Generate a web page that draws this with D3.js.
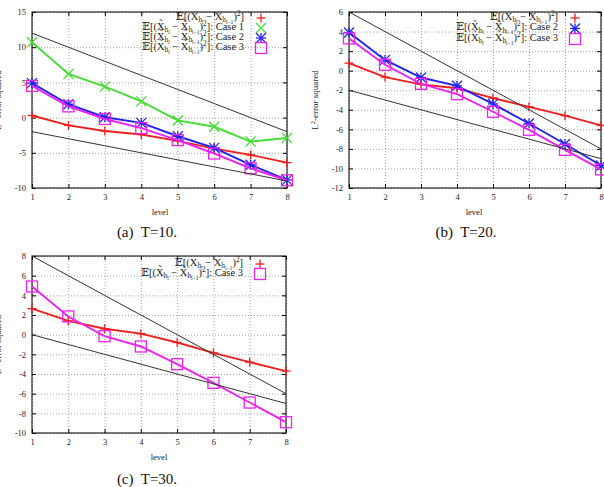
<!DOCTYPE html>
<html>
<head>
<meta charset="utf-8">
<script src="https://cdn.jsdelivr.net/npm/d3@7"></script>
<style>
  body { margin: 0; background: #fff; }
  svg, svg text { font-family: "Liberation Serif", "Times New Roman", "DejaVu Serif", serif; }
  text { white-space: pre; }
</style>
</head>
<body>
<svg id="fig" width="604" height="487"></svg>
<script>
const levels = [1, 2, 3, 4, 5, 6, 7, 8];

// (a) T=10
const t10Exact = [0.3, -1.1, -1.9, -2.4, -3.3, -4.4, -5.3, -6.4];
const t10Case1 = [10.7, 6.2, 4.4, 2.3, -0.4, -1.3, -3.4, -2.9];
const t10Case2 = [4.9, 1.9, 0.05, -0.75, -2.65, -4.3, -6.7, -8.85];
const t10Case3 = [4.5, 1.6, -0.2, -1.5, -3.2, -5.1, -7.2, -8.9];
const t10RefSteep = [12, 10, 8, 6, 4, 2, 0, -2];
const t10RefFlat = [-2, -3, -4, -5, -6, -7, -8, -9];
const t10YTicks = [-10, -5, 0, 5, 10, 15];

// (b) T=20
const t20Exact = [0.77, -0.66, -1.4, -1.8, -2.8, -3.7, -4.6, -5.6];
const t20Case2 = [3.9, 1.1, -0.7, -1.55, -3.4, -5.4, -7.5, -9.7];
const t20Case3 = [3.3, 0.6, -1.35, -2.4, -4.2, -6.05, -8.1, -10.1];
const t20RefSteep = [6, 4, 2, 0, -2, -4, -6, -8];
const t20RefFlat = [-2, -3, -4, -5, -6, -7, -8, -9];
const t20YTicks = [-12, -10, -8, -6, -4, -2, 0, 2, 4, 6];

// (c) T=30
const t30Exact = [2.65, 1.4, 0.6, 0.1, -0.8, -1.85, -2.8, -3.7];
const t30Case3 = [4.9, 1.85, -0.15, -1.2, -3.0, -4.9, -6.9, -8.9];
const t30RefSteep = [8, 6, 4, 2, 0, -2, -4, -6];
const t30RefFlat = [0, -1, -2, -3, -4, -5, -6, -7];
const t30YTicks = [-10, -8, -6, -4, -2, 0, 2, 4, 6, 8];

// legend labels, [text, level] : 0 normal, 1 sub, 2 subsub, -1 sup
const exactLabel = [['𝔼[(X', 0], ['h', 1], ['l', 2], [' − X', 0], ['h', 1], ['l−1', 2], [')', 0], ['2', -1], [']', 0]];
const caseLabel = n => [['𝔼[(X̃', 0], ['h', 1], ['l', 2], [' − X̃', 0], ['h', 1], ['l−1', 2], [')', 0], ['2', -1], [']: Case ' + n, 0]];

const colors = {exact: '#ee1f1f', case1: '#44dd33', case2: '#2222ee', case3: '#ee22ee'};
const serif = '"Liberation Serif", "Times New Roman", "DejaVu Serif", serif';

class LevelPlot {
    constructor(_config, _series, _refs) {
        this.config = {
            parentElement: _config.parentElement,
            left: _config.left,
            top: _config.top,
            width: _config.width || 254,
            height: _config.height || 176,
            yTicks: _config.yTicks,
            caption: _config.caption,
            captionX: _config.captionX,
            captionY: _config.captionY || 225,
            levelX: _config.levelX || 127,
            legendRows: _config.legendRows
        }
        this.series = _series;
        this.refs = _refs;
        this.initVis();
    }

    initVis() {
        let vis = this;
        const w = vis.config.width, h = vis.config.height;

        vis.svg = d3.select(vis.config.parentElement);
        vis.chart = vis.svg.append('g')
            .attr('transform', `translate(${vis.config.left},${vis.config.top})`);

        vis.xScale = d3.scaleLinear().domain([1, 8]).range([0, w]);
        vis.yScale = d3.scaleLinear().domain(d3.extent(vis.config.yTicks)).range([h, 0]);

        // dotted grid
        vis.chart.append('g')
            .attr('class', 'grid')
            .attr('transform', `translate(0,${h})`)
            .call(d3.axisBottom(vis.xScale).tickValues(levels).tickSize(-h).tickFormat(''));
        vis.chart.append('g')
            .attr('class', 'grid')
            .call(d3.axisLeft(vis.yScale).tickValues(vis.config.yTicks).tickSize(-w).tickFormat(''));
        vis.chart.selectAll('.grid .domain').remove();
        vis.chart.selectAll('.grid line')
            .attr('stroke', '#8a8a8a')
            .attr('stroke-width', 0.8)
            .attr('stroke-dasharray', '1,2');

        // inward ticks on all four sides
        const fmt = d => String(d);
        vis.chart.append('g')
            .attr('transform', `translate(0,${h})`)
            .call(d3.axisBottom(vis.xScale).tickValues(levels).tickSizeInner(-4).tickSizeOuter(0).tickPadding(6).tickFormat(fmt));
        vis.chart.append('g')
            .call(d3.axisLeft(vis.yScale).tickValues(vis.config.yTicks).tickSizeInner(-4).tickSizeOuter(0).tickPadding(6).tickFormat(fmt));
        vis.chart.append('g')
            .call(d3.axisTop(vis.xScale).tickValues(levels).tickSizeInner(-4).tickSizeOuter(0).tickFormat(''));
        vis.chart.append('g')
            .attr('transform', `translate(${w},0)`)
            .call(d3.axisRight(vis.yScale).tickValues(vis.config.yTicks).tickSizeInner(-4).tickSizeOuter(0).tickFormat(''));
        vis.chart.selectAll('.domain').remove();
        vis.chart.selectAll('g').attr('font-family', serif);
        vis.chart.selectAll('g.tick text')
            .attr('font-family', serif)
            .attr('font-size', 8.5)
            .attr('fill', '#222');

        vis.chart.append('rect')
            .attr('width', w)
            .attr('height', h)
            .attr('fill', 'none')
            .attr('stroke', '#111')
            .attr('stroke-width', 1.1);

        // labels
        vis.chart.append('text')
            .attr('x', vis.config.levelX)
            .attr('y', h + 27)
            .attr('text-anchor', 'middle')
            .attr('font-family', serif)
            .attr('font-size', 8.5)
            .attr('fill', '#222')
            .text('level');

        const yl = vis.chart.append('text')
            .attr('transform', `translate(-31,${h / 2}) rotate(-90)`)
            .attr('text-anchor', 'middle')
            .attr('font-family', serif)
            .attr('font-size', 9)
            .attr('fill', '#222');
        yl.append('tspan').text('L');
        yl.append('tspan').attr('dy', -3.5).attr('font-size', 6.5).text('2');
        yl.append('tspan').attr('dy', 3.5).text('-error squared');

        vis.chart.append('text')
            .attr('x', vis.config.captionX)
            .attr('y', vis.config.captionY)
            .attr('text-anchor', 'middle')
            .attr('font-family', serif)
            .attr('font-size', 15)
            .attr('fill', '#111')
            .text(vis.config.caption);

        vis.renderVis();
    }

    marker(g, type, x, y, color) {
        const s = type === 'plus' ? 4.5 : 5;
        const add = (x1, y1, x2, y2) => g.append('line')
            .attr('x1', x + x1).attr('y1', y + y1).attr('x2', x + x2).attr('y2', y + y2)
            .attr('stroke', color).attr('stroke-width', 1.3);
        if (type === 'plus' || type === 'star') {
            add(-s, 0, s, 0);
            add(0, -s, 0, s);
        }
        if (type === 'cross' || type === 'star') {
            add(-s, -s, s, s);
            add(-s, s, s, -s);
        }
        if (type === 'square') {
            g.append('rect')
                .attr('x', x - 5.5).attr('y', y - 5.5)
                .attr('width', 11).attr('height', 11)
                .attr('fill', 'none').attr('stroke', color).attr('stroke-width', 1.3);
        }
    }

    renderVis() {
        let vis = this;
        const line = d3.line()
            .x((d, i) => vis.xScale(levels[i]))
            .y(d => vis.yScale(d));

        vis.series.forEach(s => {
            const g = vis.chart.append('g');
            g.append('path')
                .attr('d', line(s.values))
                .attr('fill', 'none')
                .attr('stroke', s.color)
                .attr('stroke-width', 1.9);
            s.values.forEach((v, i) => vis.marker(g, s.marker, vis.xScale(levels[i]), vis.yScale(v), s.color));
        });

        vis.refs.forEach(r => {
            vis.chart.append('path')
                .attr('d', line(r))
                .attr('fill', 'none')
                .attr('stroke', '#333')
                .attr('stroke-width', 1);
        });

        // legend
        const lx = vis.config.width - 43;
        const mx = vis.config.width - 26;
        const sizes = {0: 10.5, 1: 7.2, 2: 5.6, '-1': 7.2};
        const offs = {0: 0, 1: 2.6, 2: 4.2, '-1': -4};
        vis.series.forEach((s, k) => {
            const my = vis.config.legendRows[k];
            const t = vis.chart.append('text')
                .attr('x', lx)
                .attr('y', my + 1.5)
                .attr('text-anchor', 'end')
                .attr('font-family', serif)
                .attr('fill', '#222');
            let cur = 0;
            s.label.forEach(([str, lvl]) => {
                t.append('tspan')
                    .attr('dy', offs[lvl] - cur)
                    .attr('font-size', sizes[lvl])
                    .text(str);
                cur = offs[lvl];
            });
            vis.marker(vis.chart, s.marker, mx, my, s.color);
        });
    }
}

new LevelPlot({
    parentElement: '#fig', left: 32, top: 12, width: 255, height: 176,
    yTicks: t10YTicks, caption: '(a)  T=10.', captionX: 115, levelX: 128,
    legendRows: [6, 16, 26, 36]
}, [
    {values: t10Exact, color: colors.exact, marker: 'plus', label: exactLabel},
    {values: t10Case1, color: colors.case1, marker: 'cross', label: caseLabel(1)},
    {values: t10Case2, color: colors.case2, marker: 'star', label: caseLabel(2)},
    {values: t10Case3, color: colors.case3, marker: 'square', label: caseLabel(3)}
], [t10RefSteep, t10RefFlat]);

new LevelPlot({
    parentElement: '#fig', left: 349, top: 12, width: 252, height: 176,
    yTicks: t20YTicks, caption: '(b)  T=20.', captionX: 117, levelX: 125,
    legendRows: [6, 16.5, 27]
}, [
    {values: t20Exact, color: colors.exact, marker: 'plus', label: exactLabel},
    {values: t20Case2, color: colors.case2, marker: 'star', label: caseLabel(2)},
    {values: t20Case3, color: colors.case3, marker: 'square', label: caseLabel(3)}
], [t20RefSteep, t20RefFlat]);

new LevelPlot({
    parentElement: '#fig', left: 32, top: 256, width: 254, height: 177,
    yTicks: t30YTicks, caption: '(c)  T=30.', captionX: 115, captionY: 228, levelX: 127,
    legendRows: [8, 18]
}, [
    {values: t30Exact, color: colors.exact, marker: 'plus', label: exactLabel},
    {values: t30Case3, color: colors.case3, marker: 'square', label: caseLabel(3)}
], [t30RefSteep, t30RefFlat]);
</script>
</body>
</html>
